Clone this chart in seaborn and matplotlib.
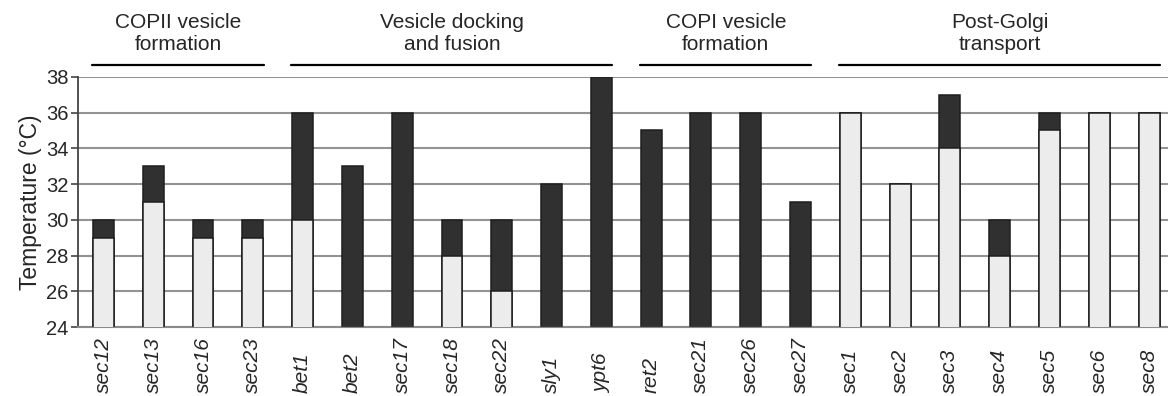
import matplotlib
matplotlib.use("Agg")
import matplotlib.pyplot as plt
import matplotlib.transforms as mtransforms
import seaborn as sns

# ── data ───────────────────────────────────────────────────────────────────
genes = ["sec12", "sec13", "sec16", "sec23",
         "bet1", "bet2", "sec17", "sec18", "sec22", "sly1", "ypt6",
         "ret2", "sec21", "sec26", "sec27",
         "sec1", "sec2", "sec3", "sec4", "sec5", "sec6", "sec8"]
# top of the light (lower) segment; 24 = no light segment
light_top = [29, 31, 29, 29,
             30, 24, 24, 28, 26, 24, 24,
             24, 24, 24, 24,
             36, 32, 34, 28, 35, 36, 36]
# top of the whole bar (dark segment sits between light_top and this)
bar_top = [30, 33, 30, 30,
           36, 33, 36, 30, 30, 32, 38,
           35, 36, 36, 31,
           36, 32, 37, 30, 36, 36, 36]
group_names = ["COPII vesicle\nformation", "Vesicle docking\nand fusion",
               "COPI vesicle\nformation", "Post-Golgi\ntransport"]
group_first = [0, 4, 11, 15]
group_last = [3, 10, 14, 21]
y_ticks = [24, 26, 28, 30, 32, 34, 36, 38]

# ── style ──────────────────────────────────────────────────────────────────
sns.set_style("white")
plt.rcParams["font.family"] = ["Liberation Sans", "DejaVu Sans"]

LIGHT = "#ececec"
DARK = "#303030"
EDGE = "#1e1e1e"

fig = plt.figure(figsize=(11.68, 3.96), dpi=100)
ax = fig.add_axes([0.0668, 0.174, 0.9332, 0.632])

ax.set_axisbelow(True)
ax.yaxis.grid(True, color="#939393", linewidth=1.5)

sns.barplot(x=genes, y=bar_top, color=DARK, saturation=1, width=0.42,
            edgecolor=EDGE, linewidth=1.1, ax=ax, zorder=2)
sns.barplot(x=genes, y=light_top, color=LIGHT, saturation=1, width=0.42,
            edgecolor=EDGE, linewidth=1.1, ax=ax, zorder=3)

ax.set_ylim(24, 38)
ax.set_xlim(-0.51, 21.38)
ax.set_yticks(y_ticks)
ax.tick_params(axis="y", labelsize=14.5, length=5, width=1.2, color="#444444",
               pad=2, left=True)
ax.tick_params(axis="x", length=0, labelbottom=False)
ax.set_ylabel("Temperature (\u00b0C)", fontsize=16.5, labelpad=3)

for side in ["top", "right"]:
    ax.spines[side].set_visible(False)
ax.spines["left"].set_color("#444444")
ax.spines["left"].set_linewidth(1.3)
ax.spines["bottom"].set_color("#8a8a8a")
ax.spines["bottom"].set_linewidth(1.5)

trans = mtransforms.blended_transform_factory(ax.transData, ax.transAxes)

# gene labels, bottom-aligned as in the original figure
for i, g in enumerate(genes):
    ax.text(i, -0.264, g, transform=trans, rotation=90, ha="center",
            va="bottom", fontsize=15, style="italic", clip_on=False)

# group bars and titles
for name, a, b in zip(group_names, group_first, group_last):
    ax.plot([a - 0.23, b + 0.22], [1.048, 1.048], transform=trans,
            color="black", linewidth=1.6, clip_on=False)
    ax.text((a + b) / 2, 1.175, name, transform=trans, ha="center",
            va="center", fontsize=15, linespacing=1.2, clip_on=False)

fig.savefig("out.png", dpi=100)
plt.close(fig)
